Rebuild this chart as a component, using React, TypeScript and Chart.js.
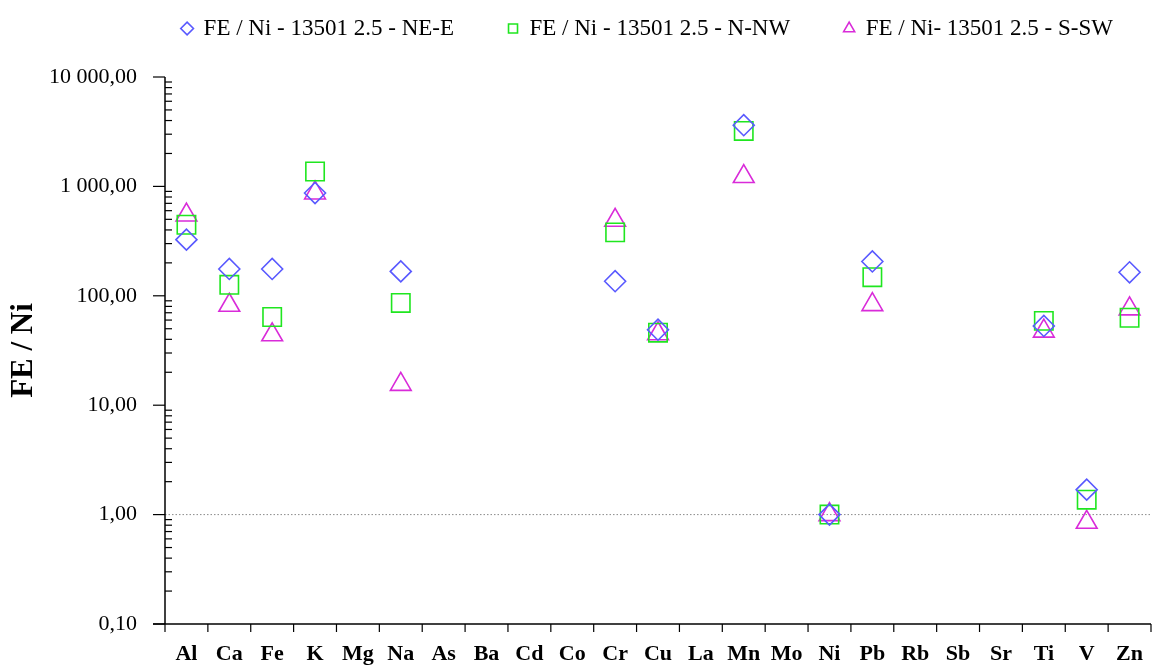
import { useEffect, useRef } from "react";
import { Chart, registerables } from "chart.js";

Chart.register(...registerables);

const elements = ["Al", "Ca", "Fe", "K", "Mg", "Na", "As", "Ba", "Cd", "Co", "Cr", "Cu", "La", "Mn", "Mo", "Ni", "Pb", "Rb", "Sb", "Sr", "Ti", "V", "Zn"];
const seriesNames = ["FE / Ni - 13501 2.5 - NE-E", "FE / Ni - 13501 2.5 - N-NW", "FE / Ni- 13501 2.5 - S-SW"];
const seriesNE_E = [326, 176, 176, 870, null, 167, null, null, null, null, 136, 49, null, 3625, null, 1, 206, null, null, null, 53, 1.69, 164];
const seriesN_NW = [446, 126, 64, 1368, null, 86, null, null, null, null, 380, 46, null, 3215, null, 1, 148, null, null, null, 59, 1.37, 63];
const seriesS_SW = [547, 82, 44, 871, null, 15.5, null, null, null, null, 490, 45, null, 1231, null, 1, 83, null, null, null, 47.5, 0.85, 76];
const yTickValues = [0.1, 1, 10, 100, 1000, 10000];
const yTickLabels = ["0,10", "1,00", "10,00", "100,00", "1 000,00", "10 000,00"];
const yTitle = "FE / Ni";
const referenceValue = 1;

const SERIF = "'Liberation Serif', 'Times New Roman', serif";

const layoutPlugin = {
  id: "layoutTweaks",
  beforeInit(chart: any) {
    const legend = chart.legend;
    if (legend) {
      const origFit = legend.fit;
      legend.fit = function () {
        origFit.call(this);
        this.height += 27;
      };
    }
  },
  afterLayout(chart: any) {
    const legend = chart.legend;
    if (legend) {
      legend.left += 72;
      legend.right += 72;
    }
  },
};

const axesPlugin = {
  id: "excelAxes",
  beforeDatasetsDraw(chart: any) {
    const { ctx, chartArea: a, scales } = chart;
    const y = scales.y;
    const x = scales.x;
    ctx.save();
    const yRef = y.getPixelForValue(referenceValue);
    ctx.strokeStyle = "#8a8a8a";
    ctx.lineWidth = 1;
    ctx.setLineDash([1.5, 2]);
    ctx.beginPath();
    ctx.moveTo(a.left, yRef);
    ctx.lineTo(a.right, yRef);
    ctx.stroke();
    ctx.setLineDash([]);

    ctx.strokeStyle = "#000";
    ctx.lineWidth = 1.5;
    ctx.beginPath();
    ctx.moveTo(a.left, a.top);
    ctx.lineTo(a.left, a.bottom);
    ctx.stroke();

    ctx.lineWidth = 1.2;
    for (let i = 0; i < yTickValues.length; i++) {
      const v = yTickValues[i];
      const p = y.getPixelForValue(v);
      ctx.beginPath();
      ctx.moveTo(a.left - 12, p);
      ctx.lineTo(a.left, p);
      ctx.stroke();
      if (i < yTickValues.length - 1) {
        for (let m = 2; m <= 9; m++) {
          const q = y.getPixelForValue(v * m);
          ctx.beginPath();
          ctx.moveTo(a.left, q);
          ctx.lineTo(a.left + 7, q);
          ctx.stroke();
        }
      }
    }

    ctx.lineWidth = 1.5;
    ctx.beginPath();
    ctx.moveTo(a.left - 12, a.bottom);
    ctx.lineTo(a.right, a.bottom);
    ctx.stroke();

    const n = elements.length;
    const band = x.getPixelForValue(1) - x.getPixelForValue(0);
    ctx.lineWidth = 1.2;
    for (let i = 0; i <= n; i++) {
      const px = x.getPixelForValue(0) - band / 2 + i * band;
      ctx.beginPath();
      ctx.moveTo(px, a.bottom);
      ctx.lineTo(px, a.bottom + 8);
      ctx.stroke();
    }
    ctx.restore();
  },
};

export default function App() {
  const ref = useRef<HTMLCanvasElement>(null);

  useEffect(() => {
    if (!ref.current) return;
    const mk = (label: string, data: any[], color: string, style: string, radius: number) => ({
      label,
      data,
      showLine: false,
      borderColor: color,
      backgroundColor: "rgba(0,0,0,0)",
      pointBorderColor: color,
      pointBackgroundColor: "rgba(0,0,0,0)",
      pointStyle: style,
      pointRadius: radius,
      pointHoverRadius: radius,
      pointBorderWidth: 1.6,
      borderWidth: 1.6,
      clip: false,
    });
    const chart = new Chart(ref.current, {
      type: "line",
      data: {
        labels: elements,
        datasets: [
          mk(seriesNames[0], seriesNE_E, "#5959ff", "rectRot", 10.5),
          mk(seriesNames[1], seriesN_NW, "#1fe61f", "rect", 13),
          mk(seriesNames[2], seriesS_SW, "#d92bd9", "triangle", 12),
        ],
      },
      options: {
        responsive: false,
        animation: false,
        layout: { autoPadding: false, padding: { top: 17 - 54, left: 0, right: 2, bottom: 0 } },
        plugins: {
          legend: {
            position: "top",
            fullSize: true,
            labels: {
              usePointStyle: true,
              boxWidth: 10,
              boxHeight: 9,
              padding: 54,
              color: "#000",
              font: { family: SERIF, size: 23 },
            },
          },
          tooltip: { enabled: false },
        },
        scales: {
          x: {
            type: "category",
            offset: true,
            grid: { display: false, drawTicks: true, tickLength: 17 },
            border: { display: false },
            afterFit: (s: any) => {
              s.height = 44;
              s.paddingLeft = 0;
              s.paddingRight = 0;
            },
            ticks: {
              autoSkip: false,
              maxRotation: 0,
              padding: 0,
              color: "#000",
              font: { family: SERIF, size: 22, weight: "bold" },
            },
          },
          y: {
            type: "logarithmic",
            min: 0.1,
            max: 10000,
            grid: { display: false, drawTicks: true, tickLength: 28 },
            border: { display: false },
            afterFit: (s: any) => {
              s.width = 165;
            },
            afterBuildTicks: (s: any) => {
              s.ticks = yTickValues.map((v) => ({ value: v }));
            },
            ticks: {
              autoSkip: false,
              padding: 0,
              color: "#000",
              font: { family: SERIF, size: 22 },
              callback: (v: any) => {
                const i = yTickValues.findIndex((t) => Math.abs(t - Number(v)) < 1e-9 * Math.max(1, t));
                return i >= 0 ? yTickLabels[i] : "";
              },
            },
            title: {
              display: true,
              text: yTitle,
              color: "#000",
              padding: { top: 5, bottom: 0 },
              font: { family: SERIF, size: 31, weight: "bold" },
            },
          },
        },
      },
      plugins: [layoutPlugin, axesPlugin],
    } as any);
    return () => chart.destroy();
  }, []);

  return (
    <div style={{ position: "fixed", left: 0, top: 0, width: 1153, height: 668, background: "#fff" }}>
      <canvas ref={ref} width={1153} height={668} style={{ display: "block" }} />
    </div>
  );
}
